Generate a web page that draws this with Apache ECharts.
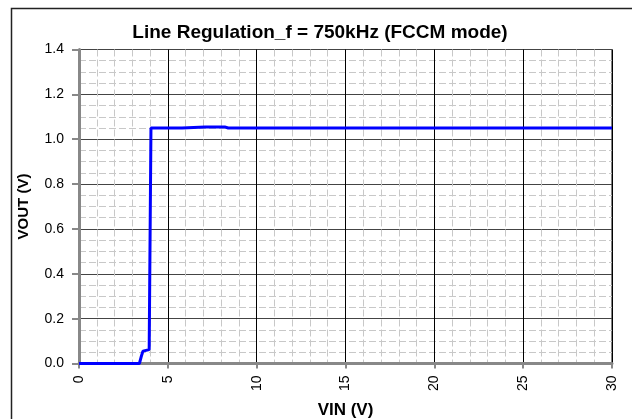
<!DOCTYPE html>
<html>
<head>
<meta charset="utf-8">
<script src="https://cdn.jsdelivr.net/npm/echarts@6/dist/echarts.min.js"></script>
<style>
  html, body { margin: 0; padding: 0; background: #fff; }
  #chart { width: 632px; height: 419px; }
</style>
</head>
<body>
<div id="chart"></div>
<script>
// VIN (V) sweep and measured VOUT (V)
const vin  = [0, 3.4, 3.5, 3.6, 3.7, 3.95, 4.05, 4.05, 5.8, 5.85, 7.1, 7.2, 7.3, 7.7, 7.8, 7.9, 8.2, 8.3, 8.4, 30];
const vout = [0, 0, 0.03, 0.055, 0.06, 0.062, 0.065, 1.05, 1.05, 1.055, 1.055, 1.05, 1.055, 1.055, 1.05, 1.055, 1.055, 1.05, 1.05, 1.05];
const xTicks = [0, 5, 10, 15, 20, 25, 30];
const yTicks = [0, 0.2, 0.4, 0.6, 0.8, 1.0, 1.2, 1.4];

const chart = echarts.init(document.getElementById('chart'));
const font = 'Liberation Sans, Arial, sans-serif';

chart.setOption({
  animation: false,
  title: {
    text: 'Line Regulation_f = 750kHz (FCCM mode)',
    left: 315, top: 18, textAlign: 'center',
    textStyle: { fontFamily: font, fontSize: 19, fontWeight: 'bold', color: '#000' }
  },
  graphic: [{
    type: 'rect',
    shape: { x: 11.5, y: 8.5, width: 660, height: 460 },
    style: { fill: 'none', stroke: '#222', lineWidth: 1.5 },
    z: 0
  }],
  grid: {
    left: 79, right: 20, top: 49.5, bottom: 55.5,
    containLabel: false, outerBoundsMode: 'none',
    show: true, borderColor: '#000', borderWidth: 1
  },
  xAxis: {
    type: 'value', min: xTicks[0], max: xTicks[xTicks.length - 1], interval: 5,
    name: 'VIN (V)', nameLocation: 'middle', nameGap: 38,
    nameTextStyle: { fontFamily: font, fontSize: 17, fontWeight: 'bold', color: '#000' },
    axisLine: { onZero: false, lineStyle: { color: '#888', width: 3 } },
    axisTick: { show: true, length: 5, lineStyle: { color: '#888', width: 2 } },
    axisLabel: { rotate: 90, margin: 12, fontFamily: font, fontSize: 14, color: '#000' },
    splitLine: { show: true, lineStyle: { color: '#000', width: 1 } },
    minorTick: { show: false, splitNumber: 5 },
    minorSplitLine: { show: true, lineStyle: { color: '#c8c8c8', width: 1, type: [7, 3] } }
  },
  yAxis: {
    type: 'value', min: yTicks[0], max: yTicks[yTicks.length - 1], interval: 0.2,
    name: 'VOUT (V)', nameLocation: 'middle', nameGap: 48,
    nameTextStyle: { fontFamily: font, fontSize: 15, fontWeight: 'bold', color: '#000' },
    axisLine: { show: true, lineStyle: { color: '#888', width: 3 } },
    axisTick: { show: true, length: 7, lineStyle: { color: '#888', width: 2 } },
    axisLabel: { margin: 15, fontFamily: font, fontSize: 14, color: '#000',
      formatter: v => v.toFixed(1) },
    splitLine: { show: true, lineStyle: { color: '#444', width: 1 } },
    minorTick: { show: false, splitNumber: 4 },
    minorSplitLine: { show: true, lineStyle: { color: '#c8c8c8', width: 1, type: [7, 3] } }
  },
  series: [{
    type: 'line',
    data: vin.map((x, i) => [x, vout[i]]),
    showSymbol: false,
    lineStyle: { color: '#0000ff', width: 3 },
    z: 5
  }]
});
</script>
</body>
</html>
